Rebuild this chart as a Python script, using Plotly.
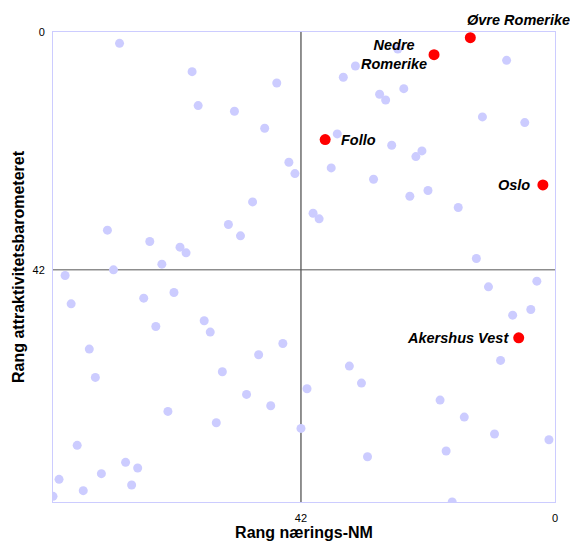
import plotly.graph_objects as go

# rank in the business championship (x) and the attractiveness barometer (y)
other_x = [72, 60, 46, 59, 53, 48, 44, 43, 50, 74, 54, 52, 67, 62, 61, 65, 73, 81,
           26, 8, 33, 35, 25, 29, 28, 12, 5, 36, 27, 22, 23, 37, 30, 21, 24, 16, 40, 39, 13, 3,
           80, 68, 63, 58, 57, 66, 77, 76, 55, 45, 49, 51, 47, 64, 56, 42, 79, 71, 69, 75, 82, 70, 78, 83,
           11, 7, 4, 9, 34, 32, 41, 19, 15, 10, 1, 18, 31, 17]
other_y = [2, 7, 9, 13, 14, 17, 23, 25, 30, 35, 34, 36, 37, 38, 39, 41, 42, 43,
           3, 5, 6, 8, 10, 11, 12, 15, 16, 18, 20, 21, 22, 24, 26, 28, 29, 31, 32, 33, 40, 44,
           48, 47, 46, 51, 53, 52, 56, 61, 60, 55, 57, 64, 66, 67, 69, 70, 73, 76, 77, 78, 79, 80, 81, 82,
           45, 50, 49, 58, 59, 62, 63, 65, 68, 71, 72, 74, 75, 83]

regions = ['Øvre Romerike', 'Nedre<br>Romerike', 'Follo', 'Oslo', 'Akershus Vest']
region_x = [14, 20, 38, 2, 6]
region_y = [1, 4, 19, 27, 54]

MID = 42
MAX_RANK = 83

fig = go.Figure()
fig.add_trace(go.Scatter(
    x=other_x, y=other_y, mode='markers',
    marker=dict(color='#CCCCFF', size=9),
    hoverinfo='skip',
))
fig.add_trace(go.Scatter(
    x=region_x, y=region_y, mode='markers',
    marker=dict(color='#FF0000', size=11),
    hoverinfo='skip',
))

# label placement (anchor, shift) per region
label_pos = [
    dict(xanchor='left', yanchor='bottom', xshift=-5, yshift=8),
    dict(xanchor='right', yanchor='middle', xshift=-5, yshift=0),
    dict(xanchor='left', yanchor='middle', xshift=14, yshift=0),
    dict(xanchor='right', yanchor='middle', xshift=-11, yshift=0),
    dict(xanchor='right', yanchor='middle', xshift=-8, yshift=0),
]
for name, x, y, pos in zip(regions, region_x, region_y, label_pos):
    fig.add_annotation(
        x=x, y=y, text='<b><i>' + name + '</i></b>', showarrow=False,
        align='center', font=dict(size=14.5, color='black'), **pos
    )

fig.add_vline(x=MID, line=dict(color='#222222', width=1), layer='below')
fig.add_hline(y=MID, line=dict(color='#555555', width=1), layer='below')

axis = dict(
    range=[MAX_RANK, 0],
    tickvals=[0, MID],
    showgrid=False,
    zeroline=False,
    showline=True,
    mirror=True,
    linecolor='#CCCCFF',
    linewidth=1,
    ticks='',
    tickfont=dict(size=11, color='black'),
)

fig.update_layout(
    width=570,
    height=542,
    margin=dict(l=53, r=15, t=32, b=40, autoexpand=False),
    paper_bgcolor='white',
    plot_bgcolor='white',
    showlegend=False,
    font=dict(family='Liberation Sans, Arial, sans-serif', color='black'),
    xaxis=dict(axis, ticklabelstandoff=6,
               title=dict(text='<b>Rang nærings-NM</b>', font=dict(size=16), standoff=2)),
    yaxis=dict(axis, ticklabelstandoff=5,
               title=dict(text='<b>Rang attraktivitetsbarometeret</b>', font=dict(size=16), standoff=3)),
)

# drop the default page margin so the figure fills the window
fig.write_html('out.html', config=dict(displayModeBar=False),
               post_script="document.body.style.margin='0';"
                           "document.body.style.overflow='hidden';")
